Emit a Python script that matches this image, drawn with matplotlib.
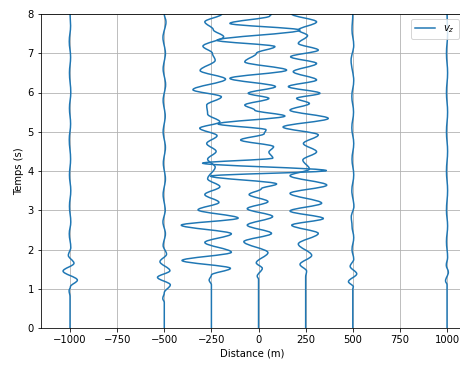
# Seismogram-style plot of vertical velocity traces along a line of receivers
import numpy as np
import matplotlib.pyplot as plt
from matplotlib.path import Path
from matplotlib.patches import PathPatch
from matplotlib.lines import Line2D

# receiver positions (m)
distances = [-1000, -500, -250, 0, 250, 500, 1000]

t_m1000 = [0, 0.8, 0.95, 1.05, 1.22, 1.45, 1.65, 1.85, 2.05, 2.4, 2.7, 3.1, 3.5, 3.9,
           4.3, 4.8, 5.2, 5.6, 6.0, 6.5, 6.9, 7.3, 7.7, 8.0]
v_m1000 = [0, 0, -5, 2, 39, -37, 21, -9, 4, -4, 4, -3, 4, -3,
           3, -4, 3, -3, 4, -3, 3, -4, 3, 0]

t_m500 = [0, 0.65, 0.75, 0.9, 1.10, 1.29, 1.46, 1.69, 1.88, 2.1, 2.4, 2.7, 3.0, 3.4,
          3.8, 4.2, 4.6, 5.0, 5.4, 5.8, 6.2, 6.6, 7.0, 7.4, 7.8, 8.0]
v_m500 = [0, 0, -8, 0, 32, -36, 30, -23, 12, -6, 6, -7, 5, -6,
          6, -5, 6, -6, 5, -6, 7, -6, 6, -7, 9, 0]

t_m250 = [0, 1.1, 1.22, 1.35, 1.52, 1.72, 1.93, 2.18, 2.40, 2.62, 2.80, 3.01, 3.20,
          3.40, 3.60, 3.80, 4.10, 4.30, 4.50, 4.70, 4.90, 5.09, 5.25, 5.45, 5.68,
          5.89, 6.07, 6.34, 6.56, 6.82, 7.00, 7.18, 7.42, 7.60, 7.80, 8.0]
v_m250 = [0, 0, -12, 0, 101, -156, 106, -35, 106, -160, 142, -71, 40,
          -35, 45, -20, 20, -20, 25, -25, 30, -62, 45, -20, -25,
          53, -98, 75, -60, 20, 5, -45, 65, 10, -35, 55]

t_0 = [0, 1.24, 1.32, 1.52, 1.66, 1.92, 2.20, 2.41, 2.62, 2.84, 3.04, 3.22, 3.40,
       3.55, 3.67, 3.87, 4.01, 4.20, 4.33, 4.48, 4.62, 4.79, 4.95, 5.05, 5.20,
       5.40, 5.55, 5.68, 5.85, 5.98, 6.15, 6.36, 6.57, 6.78, 7.00, 7.17, 7.33,
       7.59, 7.76, 7.95, 8.0]
v_0 = [0, 0, -7, 20, -12, 50, -78, 69, -60, 75, -60, 50, -50,
       15, 96, -255, 360, -297, 76, 55, 80, -95, 30, 40, -215,
       140, -20, -73, 55, -55, 90, -152, 149, -73, -11, 87, -220,
       220, -152, 60, 69]

t_250 = [0, 1.30, 1.45, 1.62, 1.85, 2.14, 2.41, 2.62, 2.79, 2.98, 3.18, 3.43, 3.64,
         3.88, 4.05, 4.28, 4.49, 4.70, 4.92, 5.12, 5.34, 5.55, 5.72, 5.85, 5.98,
         6.15, 6.32, 6.53, 6.74, 6.91, 7.08, 7.25, 7.45, 7.59, 7.80, 8.0]
v_250 = [0, 0, 5, -30, 32, -39, 67, -74, 94, -83, 85, -83, 112,
         -83, 20, -15, 58, -12, 67, -120, 120, -83, 20, -48, 76,
         -92, 58, -66, 58, -80, 67, -39, 10, -39, 58, -74]

t_500 = [0, 1.0, 1.05, 1.18, 1.38, 1.57, 1.75, 2.0, 2.3, 2.6, 2.83, 3.1, 3.5, 3.9,
         4.3, 4.7, 5.1, 5.5, 5.9, 6.3, 6.82, 7.2, 7.6, 8.0]
v_500 = [0, 0, 3, -23, 21, -14, 5, -4, 5, -4, -8, 6, -5, 5,
         -4, 5, -5, 4, -5, 5, -9, 5, -4, 0]

t_1000 = [0, 1.1, 1.2, 1.42, 1.6, 1.8, 2.2, 2.6, 3.0, 3.5, 4.0, 4.5, 5.0, 5.5,
          6.0, 6.5, 7.0, 7.5, 8.0]
v_1000 = [0, 0, -8, 7, -4, 3, -3, 3, -3, 3, -3, 3, -3, 3,
          -3, 3, -3, 3, 0]

traces = [(t_m1000, v_m1000), (t_m500, v_m500), (t_m250, v_m250), (t_0, v_0),
          (t_250, v_250), (t_500, v_500), (t_1000, v_1000)]

COLOR = '#1f77b4'


def wiggle_path(d, t, v):
    """Smooth path through the turning points: every picked point gets a
    vertical tangent, so the trace swings like a half-cycle between picks."""
    x = d + np.asarray(v, dtype=float)
    t = np.asarray(t, dtype=float)
    verts = [(x[0], t[0])]
    codes = [Path.MOVETO]
    for i in range(len(t) - 1):
        dt = t[i + 1] - t[i]
        verts += [(x[i], t[i] + dt / 3), (x[i + 1], t[i + 1] - dt / 3), (x[i + 1], t[i + 1])]
        codes += [Path.CURVE4] * 3
    return Path(verts, codes)


fig = plt.figure(figsize=(460 / 72, 368 / 72), dpi=72)
# axes run a bit past the right edge, like the cropped original
ax = fig.add_axes([41 / 460, 40 / 368, 423 / 460, 314 / 368])

for d, (t, v) in zip(distances, traces):
    ax.add_patch(PathPatch(wiggle_path(d, t, v), fill=False, edgecolor=COLOR, lw=1.5,
                           capstyle='butt', joinstyle='round'))

ax.set_xlim(-1154, 1090)
ax.set_ylim(0, 8)
ax.set_xticks(np.arange(-1000, 1001, 250))
ax.set_yticks(np.arange(0, 9, 1))
ax.grid(True)
ax.set_axisbelow(True)
ax.set_xlabel('Distance (m)')
ax.set_ylabel('Temps (s)')
ax.legend(handles=[Line2D([], [], color=COLOR, lw=1.5, label='$v_z$')], loc='upper right')

fig.savefig('out.png', dpi=72)
